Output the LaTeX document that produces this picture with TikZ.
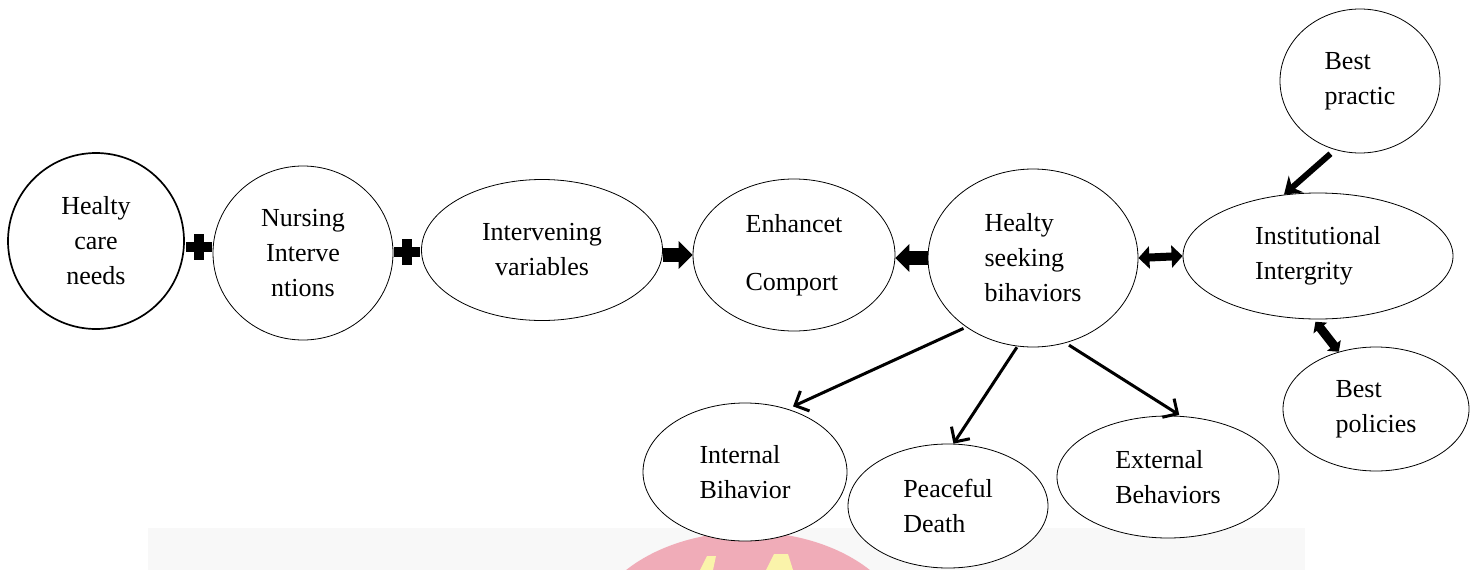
\documentclass[tikz,border=0pt]{standalone}
\usepackage{fontspec}
\setmainfont{Liberation Serif}
\usetikzlibrary{shapes.geometric,arrows.meta,calc}
\definecolor{wmgray}{RGB}{248,248,248}
\definecolor{wmpink}{RGB}{240,172,184}
\definecolor{wmyellow}{RGB}{250,243,170}
\tikzset{
  bubble/.style={draw, ellipse, fill=white, line width=0.8pt, inner sep=0pt,
    align=left, font=\fontsize{26pt}{35pt}\selectfont},
  blockarrow/.style={line width=14pt, -{Triangle[length=14pt,width=27pt]}},
  twinarrow/.style={line width=8pt, {Triangle[length=11pt,width=22pt]}-{Triangle[length=11pt,width=22pt]}},
  fatarrow/.style={line width=6pt, -{Stealth[length=16pt,width=22pt]}},
  fattwin/.style={line width=9pt, {Triangle[length=8pt,width=17pt]}-{Triangle[length=8pt,width=17pt]}},
  thinarrow/.style={line width=3pt, -{Straight Barb[length=11pt,width=22pt]}},
  plussign/.pic={\fill (-13,-5) rectangle (13,5); \fill (-5,-13) rectangle (5,13);}
}
\begin{document}
\begin{tikzpicture}[x=1pt, y=-1pt]
  \useasboundingbox (0,0) rectangle (1478,570);
  % Background
  \fill[wmgray] (148,528) rectangle (1305,570);
  \begin{scope}
    \clip (148,528) rectangle (1305,570);
    \fill[wmpink] (748,640) ellipse [x radius=160, y radius=108];
    \fill[wmyellow] (700,570) -- (707,556) -- (716,556) -- (713,570) -- cycle;
    \fill[wmyellow] (766,570) -- (774,554) -- (788,554) -- (793,570) -- cycle;
  \end{scope}
  % Chain
  \node[bubble, circle, line width=1.7pt, align=center, minimum size=176] (care) at (96,241) {Healty\\care\\needs};
  \node[bubble, align=center, minimum width=180, minimum height=174] (nurse) at (303,253) {Nursing\\Interve\\ntions};
  \node[bubble, align=center, minimum width=241, minimum height=141] (inter) at (542,250) {Intervening\\variables};
  \node[bubble, minimum width=202, minimum height=152] (enh) at (794,255) {Enhancet\\[23pt]Comport};
  \node[bubble, minimum width=210, minimum height=178] (seek) at (1033,258) {Healty\\seeking\\bihaviors};
  \node[bubble, minimum width=270, minimum height=126] (inst) at (1318,256) {Institutional\\Intergrity};
  \node[bubble, minimum width=160, minimum height=144] (best) at (1360,81) {Best\\practic};
  \node[bubble, minimum width=186, minimum height=124] (pol) at (1376,409) {Best\\policies};
  % Outcomes
  \node[bubble, minimum width=204, minimum height=138] (inner) at (745,472) {Internal\\Bihavior};
  \node[bubble, minimum width=200, minimum height=124] (peace) at (948,506) {Peaceful\\Death};
  \node[bubble, minimum width=222, minimum height=122] (outer) at (1168,477) {External\\Behaviors};
  % Links
  \pic at ($(care.east)!0.5!(nurse.west)$) {plussign};
  \pic at ($(nurse.east)!0.5!(inter.west)$) {plussign};
  \draw[blockarrow] (inter.east |- enh.west) -- (enh.west);
  \draw[blockarrow] (seek.west) -- (seek.west -| enh.east);
  \draw[twinarrow] (seek.east) -- (inst.west);
  \draw[fatarrow, shorten <=6pt] (best.250) -- (inst.119);
  \draw[fattwin, shorten <=3pt] (inst.266) -- (pol.123);
  \draw[thinarrow, shorten <=3pt, shorten >=6pt] (seek.226) -- (inner.56);
  \draw[thinarrow, shorten <=1pt] (seek.260) -- (peace.85);
  \draw[thinarrow, shorten <=4pt, shorten >=2pt] (seek.291) -- (outer.78);
\end{tikzpicture}
\end{document}
